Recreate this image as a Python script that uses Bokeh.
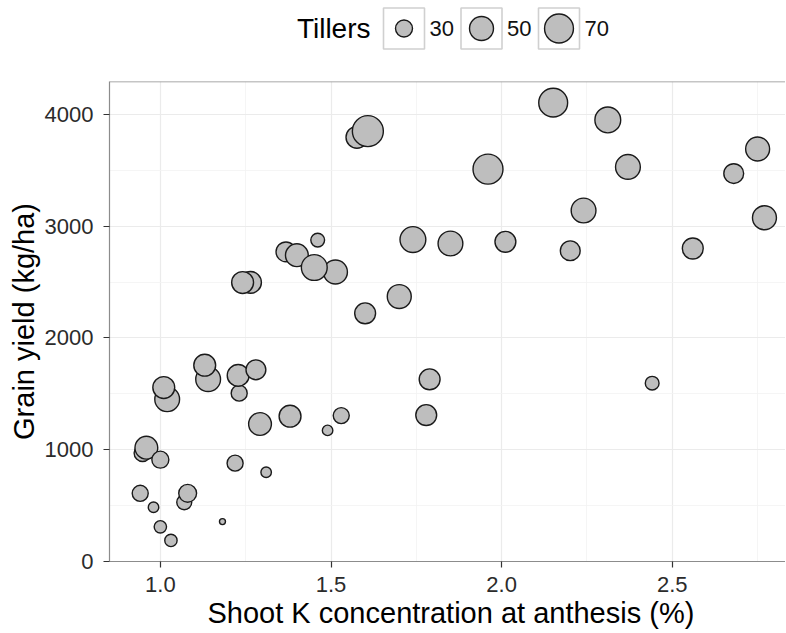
import numpy as np
from bokeh.plotting import figure
from bokeh.models import (Range1d, FixedTicker, NumeralTickFormatter,
                          ColumnDataSource, Span, Title)
from bokeh.layouts import column
from bokeh.embed import file_html
from bokeh.resources import INLINE
from bokeh.core.properties import value

# ---------------- data ----------------
k_conc = [1.576, 1.608, 1.461, 1.368, 1.400, 1.513, 1.451, 1.264, 1.241, 1.600,
          1.700, 1.740, 1.850, 2.011, 2.201, 1.960, 2.151, 2.311, 2.370, 2.240,
          2.560, 2.680, 2.750, 2.770, 2.441, 1.789, 1.779, 1.530, 1.490, 1.380,
          1.292, 1.310, 1.219, 1.231, 1.228, 1.280, 1.140, 1.130, 1.020, 1.010,
          0.948, 0.959, 1.000, 0.941, 1.070, 1.080, 0.980, 1.000, 1.031, 1.182]
grain_yield = [3795, 3850, 2875, 2770, 2740, 2590, 2630, 2497, 2495, 2220,
               2370, 2880, 2845, 2860, 2780, 3510, 4105, 3950, 3530, 3140,
               2800, 3470, 3690, 3075, 1595, 1630, 1310, 1305, 1173, 1300,
               1230, 798, 880, 1506, 1665, 1715, 1631, 1756, 1452, 1556,
               970, 1018, 911, 610, 530, 610, 485, 310, 188, 357]
tillers = [43, 80, 24, 37, 46, 50, 57, 43, 43, 40,
           50, 57, 53, 40, 37, 75, 70, 57, 53, 53,
           40, 37, 50, 50, 24, 40, 40, 28, 20, 43,
           46, 20, 28, 28, 43, 37, 53, 43, 53, 43,
           30, 46, 30, 28, 26, 32, 20, 22, 22, 18]
legend_tillers = [30, 50, 70]
x_ticks = [1.0, 1.5, 2.0, 2.5]
y_ticks = [0, 1000, 2000, 3000, 4000]
x_title = "Shoot K concentration at anthesis (%)"
y_title = "Grain yield (kg/ha)"
legend_title = "Tillers"

FONT = "Liberation Sans"
FILL = "#bebebe"
EDGE = "#1a1a1a"
BORDER = "#8c8c8c"

t_min, t_max = min(tillers), max(tillers)


def tiller_size(v):
    v = np.asarray(v, dtype=float)
    frac = np.clip((v - t_min) / (t_max - t_min), 0, 1)
    return 6 + 25 * np.sqrt(frac)


LEFT = 109
FW = 676
LEG_H = 64
TOP = 17
FH = 480
BOTTOM = 72
PX_PER_UNIT = 341.3
X0 = 0.851

# ---------------- main plot ----------------
p = figure(frame_width=FW, frame_height=FH,
           x_range=Range1d(X0, X0 + FW / PX_PER_UNIT), y_range=Range1d(0, 4294),
           output_backend="svg", toolbar_location=None,
           min_border_left=LEFT, min_border_right=0, min_border_top=TOP,
           min_border_bottom=BOTTOM, y_axis_label=y_title)
p.outline_line_color = None
p.background_fill_color = "white"

src = ColumnDataSource(dict(x=k_conc, y=grain_yield, s=tiller_size(tillers)))
p.scatter("x", "y", size="s", source=src, fill_color=FILL, line_color=EDGE,
          line_width=1.4)

x_minor = [t + 0.25 for t in x_ticks]
y_minor = [t + 500 for t in y_ticks]
p.xaxis.ticker = FixedTicker(ticks=x_ticks, minor_ticks=x_minor)
p.yaxis.ticker = FixedTicker(ticks=y_ticks, minor_ticks=y_minor)
p.xaxis.formatter = NumeralTickFormatter(format="0.0")
p.yaxis.formatter = NumeralTickFormatter(format="0")

for ax in (p.xaxis, p.yaxis):
    ax.axis_line_color = BORDER
    ax.axis_line_width = 1.2
    ax.major_tick_line_color = "#333333"
    ax.major_tick_line_width = 1.2
    ax.major_tick_out = 6
    ax.major_tick_in = 0
    ax.minor_tick_line_color = None
    ax.major_label_text_font = FONT
    ax.major_label_text_font_size = "22px"
    ax.major_label_text_color = "#2b2b2b"
    ax.axis_label_text_font = FONT
    ax.axis_label_text_font_size = "29px"
    ax.axis_label_text_font_style = "normal"
    ax.axis_label_text_color = "#000000"
p.xaxis.major_label_standoff = 9
p.yaxis.major_label_standoff = 10
p.yaxis.axis_label_standoff = 2

# top panel border
p.add_layout(Span(location=p.y_range.end, dimension="width",
                  line_color=BORDER, line_width=1.6))

# x-axis title, positioned where the (wider, cropped) original panel centres it
p.add_layout(Title(text=x_title, align="left", offset=98, standoff=0,
                   text_font=FONT, text_font_size="29px",
                   text_font_style="normal", text_color="#000000"), "below")

for g in (p.xgrid, p.ygrid):
    g.grid_line_color = "#ebebeb"
    g.grid_line_width = 1.2
    g.minor_grid_line_color = "#f2f2f2"
    g.minor_grid_line_width = 0.8

# ---------------- legend (drawn in pixel space above the plot) ----------------
lg = figure(frame_width=FW, frame_height=LEG_H,
            x_range=Range1d(LEFT, LEFT + FW), y_range=Range1d(LEG_H, 0),
            output_backend="svg", toolbar_location=None,
            min_border_left=LEFT, min_border_right=0, min_border_top=0,
            min_border_bottom=0, x_axis_type=None, y_axis_type=None)
lg.outline_line_color = None
lg.grid.visible = False

box = 41
step = 77.5
first_cx = 403.5
cy = 28
cxs = [first_cx + i * step for i in range(len(legend_tillers))]
lg.rect(x=cxs, y=[cy] * len(cxs), width=box, height=box,
        width_units="screen", height_units="screen", fill_color="white",
        line_color="#d0d0d0", line_width=1.6)
lg.scatter(x=cxs, y=[cy] * len(cxs), size=tiller_size(legend_tillers),
           fill_color=FILL, line_color=EDGE, line_width=1.4)
lg.text(x=[c + box / 2 + 5 for c in cxs], y=[cy] * len(cxs),
        text=[str(v) for v in legend_tillers], text_baseline="middle",
        text_align="left", text_font=value(FONT), text_font_size="22px",
        text_color="#111111")
lg.text(x=[first_cx - box / 2 - 13], y=[cy], text=[legend_title],
        text_baseline="middle", text_align="right", text_font=value(FONT),
        text_font_size="28px", text_color="#000000")

layout = column(lg, p, spacing=0)
open("out.html", "w").write(file_html(layout, INLINE))
